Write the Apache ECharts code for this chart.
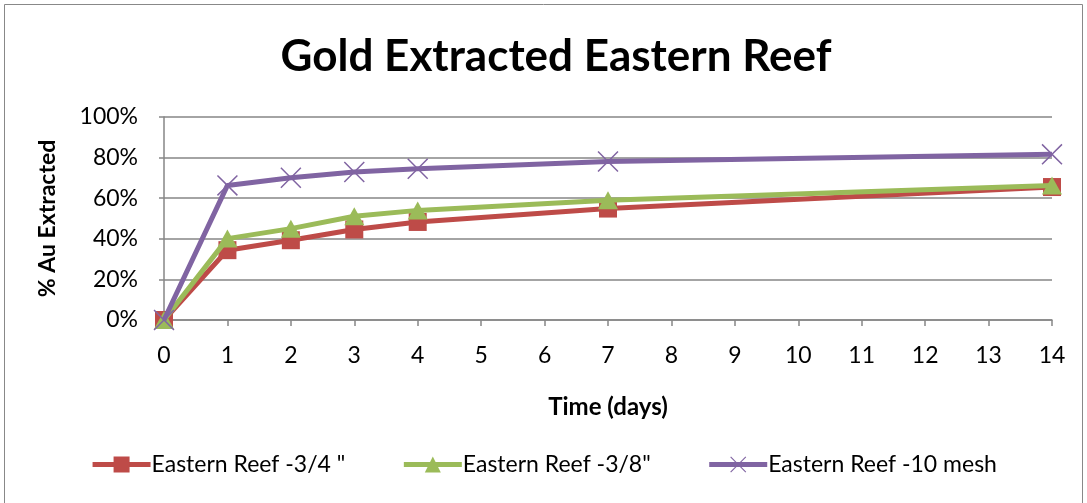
<!DOCTYPE html>
<html>
<head>
<meta charset="utf-8">
<script src="https://cdn.jsdelivr.net/npm/echarts@6/dist/echarts.min.js"></script>
<style>
  html, body { margin: 0; padding: 0; background: #fff; }
  #chart { width: 1087px; height: 503px; }
</style>
</head>
<body>
<div id="chart"></div>
<script>
// Extraction time in days
const days = [0, 1, 2, 3, 4, 7, 14];
// Fraction of gold extracted (%) per crush size
const reef34 = [0, 34.4, 39.3, 44.6, 48.3, 54.9, 65.5];
const reef38 = [0, 40.1, 45.0, 51.1, 54.0, 59.0, 66.3];
const reef10mesh = [0, 66.3, 70.1, 72.9, 74.5, 78.1, 81.6];
const seriesNames = ['Eastern Reef -3/4 "', 'Eastern Reef -3/8"', 'Eastern Reef -10 mesh'];

const FONT = 'Lato, "Open Sans", sans-serif';
const crossPath = 'path://M0,1 L1,0 L10,9 L19,0 L20,1 L11,10 L20,19 L19,20 L10,11 L1,20 L0,19 L9,10 Z';

function pairs(vals) { return days.map((d, i) => [d, vals[i]]); }

const chart = echarts.init(document.getElementById('chart'), null, { renderer: 'canvas' });
chart.setOption({
  animation: false,
  backgroundColor: '#fff',
  title: {
    text: 'Gold Extracted Eastern Reef',
    left: 551, top: 30, textAlign: 'center',
    textStyle: { fontFamily: FONT, fontWeight: 'bold', fontSize: 44, color: '#000' }
  },
  graphic: [{
    type: 'rect', shape: { x: 4.5, y: 4.5, width: 1078, height: 520 },
    style: { fill: 'none', stroke: '#888', lineWidth: 1 }, silent: true
  }],
  grid: { left: 164, right: 35, top: 117, bottom: 183 },
  xAxis: {
    type: 'value', min: 0, max: 14, interval: 1,
    name: 'Time (days)', nameLocation: 'middle', nameGap: 75,
    nameTextStyle: { fontFamily: FONT, fontWeight: 'bold', fontSize: 24, color: '#000' },
    axisLine: { lineStyle: { color: '#868686', width: 1.5 } },
    axisTick: { length: 6, lineStyle: { color: '#868686', width: 1.5 } },
    axisLabel: { fontFamily: FONT, fontSize: 23, color: '#000', margin: 24 },
    splitLine: { show: false }
  },
  yAxis: {
    type: 'value', min: 0, max: 100, interval: 20,
    name: '% Au Extracted', nameLocation: 'middle', nameGap: 105,
    nameTextStyle: { fontFamily: FONT, fontWeight: 'bold', fontSize: 23, color: '#000' },
    axisLine: { show: true, lineStyle: { color: '#868686', width: 1.5 } },
    axisTick: { show: true, length: 5, lineStyle: { color: '#868686', width: 1.5 } },
    axisLabel: { fontFamily: FONT, fontSize: 23, color: '#000', margin: 26, formatter: '{value}%' },
    splitLine: { lineStyle: { color: '#868686', width: 1.5 } }
  },
  legend: {
    bottom: 22, left: 'center', itemGap: 56, itemWidth: 58, itemHeight: 20,
    lineStyle: { width: 5 },
    textStyle: { fontFamily: FONT, fontSize: 23, color: '#000', padding: [0, 0, 0, -4] },
    data: seriesNames
  },
  series: [
    {
      name: seriesNames[0], type: 'line', data: pairs(reef34),
      symbol: 'rect', symbolSize: 18,
      lineStyle: { color: '#BE4B48', width: 5 },
      itemStyle: { color: '#BE4B48' }, z: 2
    },
    {
      name: seriesNames[1], type: 'line', data: pairs(reef38),
      symbol: 'triangle', symbolSize: [20, 18],
      lineStyle: { color: '#9BBB59', width: 5 },
      itemStyle: { color: '#9BBB59' }, z: 3
    },
    {
      name: seriesNames[2], type: 'line', data: pairs(reef10mesh),
      symbol: crossPath, symbolSize: 21,
      lineStyle: { color: '#8064A2', width: 5 },
      itemStyle: { color: '#8064A2' }, z: 4
    }
  ]
});
</script>
</body>
</html>
